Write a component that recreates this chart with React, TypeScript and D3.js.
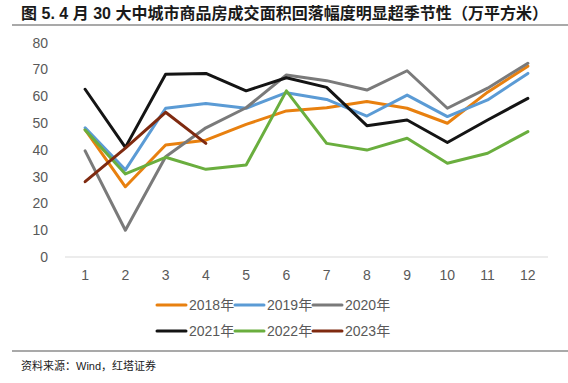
import React from "react";
import * as d3 from "d3";

const months = ["1", "2", "3", "4", "5", "6", "7", "8", "9", "10", "11", "12"];
const yTicks = [0, 10, 20, 30, 40, 50, 60, 70, 80];
const s2018 = [47.5, 26.2, 41.8, 43.6, 49.5, 54.5, 55.7, 58.0, 55.5, 49.9, 61.5, 71.2];
const s2019 = [48.2, 32.5, 55.5, 57.3, 55.5, 61.3, 58.8, 52.6, 60.4, 52.4, 58.6, 68.5];
const s2020 = [39.6, 10.0, 37.4, 48.2, 55.7, 67.9, 65.8, 62.3, 69.5, 55.5, 63.0, 72.3];
const s2021 = [62.6, 40.9, 68.2, 68.5, 62.0, 66.9, 63.3, 49.0, 51.1, 42.7, 51.1, 59.2];
const s2022 = [47.4, 31.0, 37.2, 32.7, 34.3, 62.0, 42.4, 39.9, 44.3, 35.0, 38.7, 46.8];
const s2023 = [28.1, 40.6, 54.0, 42.4];
const seriesNames = ["2018年", "2019年", "2020年", "2021年", "2022年", "2023年"];
const seriesValues = [s2018, s2019, s2020, s2021, s2022, s2023];
const colors = ["#E8800F", "#5B9BD5", "#7A7A7A", "#141414", "#6AAE3E", "#7F2A10"];

export default function App() {
  const W = 568, H = 383;
  const x = d3.scaleBand().domain(months).range([65, 548]);
  const y = d3.scaleLinear().domain([0, 80]).range([257, 42.6]);
  const line = d3
    .line<number>()
    .x((_, i) => (x(months[i]) as number) + x.bandwidth() / 2)
    .y((d) => y(d));
  const font = "Arial, 'Liberation Sans', 'Noto Sans CJK SC', sans-serif";
  const legendRows = [
    [0, 1, 2],
    [3, 4, 5],
  ];
  const legendX = [157, 235, 313];
  const legendY = [305, 331];
  return (
    <svg
      width={W}
      height={H}
      style={{ position: "absolute", left: 0, top: 0, background: "#fff" }}
      fontFamily={font}
    >
      <text
        x={21}
        y={19}
        fontSize={16}
        fontWeight="bold"
        fill="#1a1a1a"
        textLength={527}
        lengthAdjust="spacing"
      >
        图 5. 4 月 30 大中城市商品房成交面积回落幅度明显超季节性（万平方米）
      </text>
      <line x1={12} x2={568} y1={25} y2={25} stroke="#8c8c8c" strokeWidth={1.5} />
      {yTicks.map((t) => (
        <text key={t} x={48} y={y(t)} dy="0.35em" textAnchor="end" fontSize={14} fill="#595959">
          {t}
        </text>
      ))}
      <line x1={65} x2={548} y1={y(0)} y2={y(0)} stroke="#d9d9d9" strokeWidth={1} />
      {months.map((m) => (
        <text
          key={m}
          x={(x(m) as number) + x.bandwidth() / 2}
          y={275}
          dy="0.35em"
          textAnchor="middle"
          fontSize={14}
          fill="#595959"
        >
          {m}
        </text>
      ))}
      {seriesValues.map((vals, i) => (
        <path
          key={i}
          d={line(vals) as string}
          fill="none"
          stroke={colors[i]}
          strokeWidth={3}
          strokeLinejoin="round"
          strokeLinecap="round"
        />
      ))}
      {legendRows.map((row, r) =>
        row.map((si, c) => (
          <g key={si}>
            <line
              x1={legendX[c]}
              x2={legendX[c] + 29}
              y1={legendY[r]}
              y2={legendY[r]}
              stroke={colors[si]}
              strokeWidth={3}
              strokeLinecap="round"
            />
            <text x={legendX[c] + 32} y={legendY[r]} dy="0.35em" fontSize={14} fill="#595959">
              {seriesNames[si]}
            </text>
          </g>
        ))
      )}
      <line x1={12} x2={568} y1={351} y2={351} stroke="#8c8c8c" strokeWidth={1.5} />
      <text x={21} y={366} dy="0.35em" fontSize={11} fill="#1a1a1a">
        资料来源：Wind，红塔证券
      </text>
    </svg>
  );
}
